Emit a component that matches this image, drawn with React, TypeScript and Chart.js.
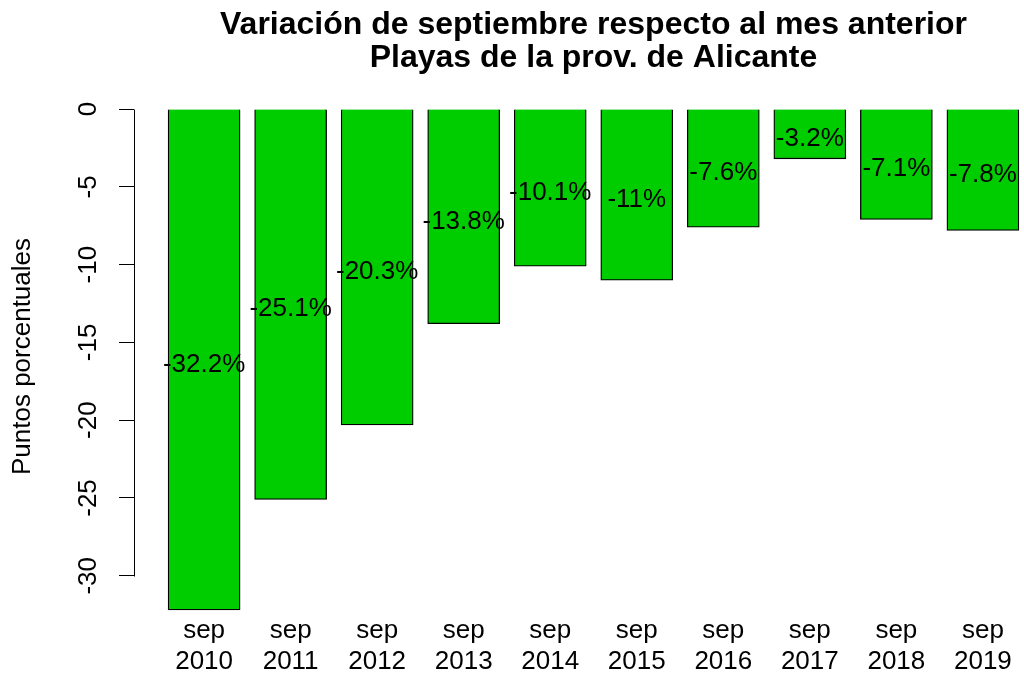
import React, { useEffect, useRef } from "react";
import { Chart, registerables } from "chart.js";

Chart.register(...registerables);

// ---- data ----
const monthLabel = "sep";
const years = ["2010", "2011", "2012", "2013", "2014", "2015", "2016", "2017", "2018", "2019"];
const values = [-32.2, -25.1, -20.3, -13.8, -10.1, -11, -7.6, -3.2, -7.1, -7.8];
const yTicks = [0, -5, -10, -15, -20, -25, -30];
const titleLines = [
  "Variación de septiembre respecto al mes anterior",
  "Playas de la prov. de Alicante",
];
const yTitle = "Puntos porcentuales";

// ---- R barplot geometry (width 1, space 0.2) ----
const BAR_W = 1;
const SPACE = 0.2;
const centers = values.map((_, i) => SPACE + BAR_W / 2 + i * (BAR_W + SPACE));
const X_MIN = -0.272;
const X_MAX_R = 12.472;
const X_MAX_VISIBLE = 12.07;
const Y_MIN_R = -33.488;
const Y_MIN = -32.33;
const Y_MAX = 1.288;

const FONT = '"Liberation Sans", Arial, Helvetica, sans-serif';
const GREEN = "rgb(0,205,0)";

const rPlugin = {
  id: "rStyle",
  afterDatasetsDraw(chart: any) {
    const { ctx } = chart;
    const x = chart.scales.x;
    const y = chart.scales.y;
    const meta = chart.getDatasetMeta(0);
    ctx.save();
    ctx.fillStyle = "#000";
    ctx.font = `26px ${FONT}`;
    ctx.textAlign = "center";
    ctx.textBaseline = "middle";
    meta.data.forEach((bar: any, i: number) => {
      const v = values[i];
      ctx.fillText(`${v}%`, bar.x, y.getPixelForValue(v / 2) + 5);
    });
    // y axis title centered on R plot region
    ctx.save();
    ctx.translate(23, y.getPixelForValue((Y_MIN_R + Y_MAX) / 2) - 3);
    ctx.rotate(-Math.PI / 2);
    ctx.fillText(yTitle, 0, 0);
    ctx.restore();
    // y axis line from first to last tick
    const ax = Math.round(y.right) + 0.5;
    ctx.strokeStyle = "#000";
    ctx.lineWidth = 1;
    ctx.beginPath();
    ctx.moveTo(ax, Math.round(y.getPixelForValue(yTicks[0])) + 0.5);
    ctx.lineTo(ax, Math.round(y.getPixelForValue(yTicks[yTicks.length - 1])) + 0.5);
    ctx.stroke();
    // main title centered over R plot region
    const cx = x.getPixelForValue((X_MIN + X_MAX_R) / 2);
    ctx.font = `bold 32px ${FONT}`;
    ctx.fillText(titleLines[0], cx, 25);
    ctx.fillText(titleLines[1], cx, 58);
    ctx.restore();
  },
};

export default function App() {
  const ref = useRef<HTMLCanvasElement | null>(null);
  useEffect(() => {
    if (!ref.current) return;
    const chart = new Chart(ref.current, {
      type: "bar",
      data: {
        datasets: [
          {
            data: values.map((v, i) => ({ x: centers[i], y: v })),
            backgroundColor: GREEN,
            borderColor: "#000",
            borderWidth: 1.3,
            barThickness: 72,
          } as any,
        ],
      },
      options: {
        responsive: false,
        animation: false,
        layout: { padding: { top: 89, left: 0, right: 0, bottom: 0 } },
        plugins: { legend: { display: false }, tooltip: { enabled: false }, title: { display: false } },
        scales: {
          x: {
            type: "linear",
            offset: false,
            min: X_MIN,
            max: X_MAX_VISIBLE,
            grid: { display: false, drawTicks: false, offset: false },
            border: { display: false },
            afterBuildTicks: (scale: any) => {
              scale.ticks = centers.map((c) => ({ value: c }));
            },
            afterFit: (scale: any) => {
              scale.height = 65;
            },
            ticks: {
              autoSkip: false,
              maxRotation: 0,
              minRotation: 0,
              padding: 3,
              color: "#000",
              font: { family: FONT, size: 26, lineHeight: 1.2 },
              callback: (_v: any, i: number) => [monthLabel, years[i]],
            },
          },
          y: {
            type: "linear",
            min: Y_MIN,
            max: Y_MAX,
            grid: { drawOnChartArea: false, drawTicks: true, tickLength: 15, color: "#000", lineWidth: 1 },
            border: { display: false },
            afterBuildTicks: (scale: any) => {
              scale.ticks = yTicks.map((v) => ({ value: v }));
            },
            afterFit: (scale: any) => {
              scale.width = 134;
            },
            ticks: {
              minRotation: 90,
              maxRotation: 90,
              crossAlign: "center",
              padding: 11,
              color: "#000",
              font: { family: FONT, size: 26 },
              callback: (v: any) => String(v),
            },
            title: { display: false },
          },
        },
      } as any,
      plugins: [rPlugin],
    });
    return () => chart.destroy();
  }, []);
  return (
    <div style={{ position: "absolute", left: 0, top: 0, width: 1024, height: 677, background: "#fff" }}>
      <canvas ref={ref} width={1024} height={677} style={{ display: "block" }} />
    </div>
  );
}
